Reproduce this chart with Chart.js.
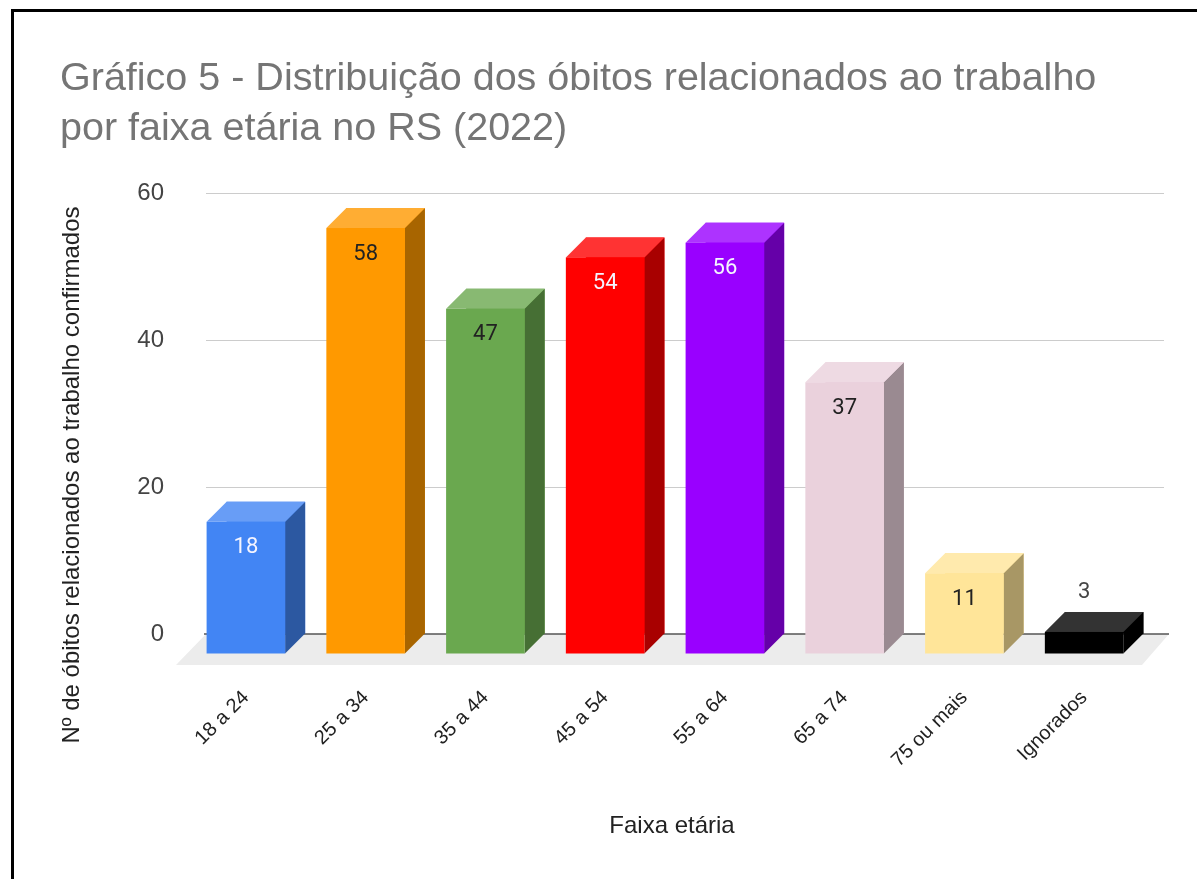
<!DOCTYPE html>
<html lang="pt-BR">
<head>
  <meta charset="UTF-8">
  <title>Gráfico 5 - Óbitos por faixa etária</title>
  <script src="https://cdn.jsdelivr.net/npm/chart.js"></script>
  <style>
    html, body {
      margin: 0;
      padding: 0;
      background: #fff;
      overflow: hidden;
    }
    .frame {
      position: absolute;
      left: 11px;
      top: 9px;
      width: 1400px;
      height: 1000px;
      border-top: 3px solid #000;
      border-left: 3px solid #000;
    }
    #chart {
      position: absolute;
      left: 0;
      top: 0;
    }
  </style>
</head>
<body>
  <div class="frame"></div>
  <canvas id="chart" width="1197" height="879"></canvas>

  <script>
    const titleLines = ['Gráfico 5 - Distribuição dos óbitos relacionados ao trabalho', 'por faixa etária no RS (2022)'];
    const yTitle = 'Nº de óbitos relacionados ao trabalho confirmados';
    const xTitle = 'Faixa etária';

    const categories = ['18 a 24', '25 a 34', '35 a 44', '45 a 54', '55 a 64', '65 a 74', '75 ou mais', 'Ignorados'];
    const values = [18, 58, 47, 54, 56, 37, 11, 3];
    const barColors = ['#4285F4', '#FF9900', '#6AA84F', '#FF0000', '#9900FF', '#EAD1DC', '#FFE599', '#000000'];
    const yTicks = [0, 20, 40, 60];

    const FONT = '"Liberation Sans", Arial, sans-serif';
    const DX = 20, DY = 20; // depth of the boxes

    function rgb(hex) {
      const n = parseInt(hex.slice(1), 16);
      return [(n >> 16) & 255, (n >> 8) & 255, n & 255];
    }
    function shade(hex, f) {
      const c = rgb(hex).map(v => Math.round(v * f));
      return `rgb(${c[0]},${c[1]},${c[2]})`;
    }
    function tint(hex, f) {
      const c = rgb(hex).map(v => Math.round(v + (255 - v) * f));
      return `rgb(${c[0]},${c[1]},${c[2]})`;
    }
    function luminance(hex) {
      const c = rgb(hex).map(v => {
        v /= 255;
        return v <= 0.03928 ? v / 12.92 : Math.pow((v + 0.055) / 1.055, 2.4);
      });
      return 0.2126 * c[0] + 0.7152 * c[1] + 0.0722 * c[2];
    }
    function poly(ctx, pts, fill) {
      ctx.fillStyle = fill;
      ctx.beginPath();
      ctx.moveTo(pts[0][0], pts[0][1]);
      for (let i = 1; i < pts.length; i++) ctx.lineTo(pts[i][0], pts[i][1]);
      ctx.closePath();
      ctx.fill();
    }

    // floor, zero line, box faces, value labels and axis titles
    const bars3d = {
      id: 'bars3d',
      beforeDatasetsDraw(chart) {
        const { ctx, chartArea: a, scales: { y } } = chart;
        const y0 = y.getPixelForValue(0);
        ctx.save();
        poly(ctx, [[a.left, y0], [a.right + 5, y0], [a.right - 22, y0 + 31], [a.left - 30, y0 + 31]], '#ececec');
        ctx.strokeStyle = '#555';
        ctx.lineWidth = 1.5;
        ctx.beginPath();
        ctx.moveTo(a.left - 2, y0);
        ctx.lineTo(a.right + 5, y0);
        ctx.stroke();
        ctx.restore();
      },
      afterDatasetsDraw(chart) {
        const ctx = chart.ctx;
        const meta = chart.getDatasetMeta(0);
        ctx.save();
        meta.data.forEach((bar, i) => {
          const { x, y, base, width } = bar.getProps(['x', 'y', 'base', 'width'], true);
          const l = x - width / 2 - DX, r = x + width / 2 - DX;
          const t = y + DY, b = base + DY;
          const c = barColors[i];
          poly(ctx, [[r, t], [r + DX, t - DY], [r + DX, b - DY], [r, b]], shade(c, 0.66));
          poly(ctx, [[l, t], [l + DX, t - DY], [r + DX, t - DY], [r, t]], tint(c, 0.2));
          ctx.fillStyle = c;
          ctx.fillRect(l, t, r - l, b - t);

          ctx.font = '22px Roboto, "Noto Sans", sans-serif';
          ctx.textAlign = 'center';
          ctx.textBaseline = 'middle';
          if (b - t > 50) {
            ctx.fillStyle = luminance(c) < 0.3 ? '#f4f4ff' : '#222';
            ctx.fillText(values[i], (l + r) / 2, t + 26);
          } else {
            ctx.fillStyle = '#444';
            ctx.fillText(values[i], (l + r) / 2, y - 19);
          }
        });
        ctx.restore();
      },
      afterDraw(chart) {
        const ctx = chart.ctx;
        ctx.save();
        ctx.fillStyle = '#222';
        ctx.font = '24px ' + FONT;
        ctx.textAlign = 'center';
        ctx.textBaseline = 'middle';
        ctx.fillText(xTitle, 672, 826);
        ctx.translate(72, 475);
        ctx.rotate(-Math.PI / 2);
        ctx.fillText(yTitle, 0, 0);
        ctx.restore();
      }
    };

    new Chart(document.getElementById('chart'), {
      type: 'bar',
      data: {
        labels: categories,
        datasets: [{
          data: values,
          backgroundColor: barColors,
          borderWidth: 0,
          categoryPercentage: 1,
          barPercentage: 0.656
        }]
      },
      options: {
        responsive: false,
        animation: false,
        events: [],
        layout: { padding: { left: 60, right: 33, top: 0, bottom: 0 } },
        plugins: {
          legend: { display: false },
          tooltip: { enabled: false },
          title: {
            display: true,
            text: titleLines,
            align: 'start',
            color: '#757575',
            font: { family: FONT, size: 39.5, weight: 'normal', lineHeight: 1.27 },
            padding: { top: 54, bottom: 39 }
          }
        },
        scales: {
          x: {
            grid: { display: false },
            border: { display: false },
            afterFit: scale => { scale.height = 245; },
            ticks: {
              autoSkip: false,
              minRotation: 45,
              maxRotation: 45,
              padding: 44,
              labelOffset: -20,
              color: '#222',
              font: { family: FONT, size: 20 }
            }
          },
          y: {
            min: 0,
            max: 60,
            afterFit: scale => { scale.width = 146; },
            afterBuildTicks: scale => { scale.ticks = yTicks.map(v => ({ value: v })); },
            grid: { color: '#cccccc', drawTicks: false },
            border: { display: false },
            ticks: {
              padding: 42,
              color: '#444',
              font: { family: FONT, size: 24 }
            }
          }
        }
      },
      plugins: [bars3d]
    });
  </script>
</body>
</html>
